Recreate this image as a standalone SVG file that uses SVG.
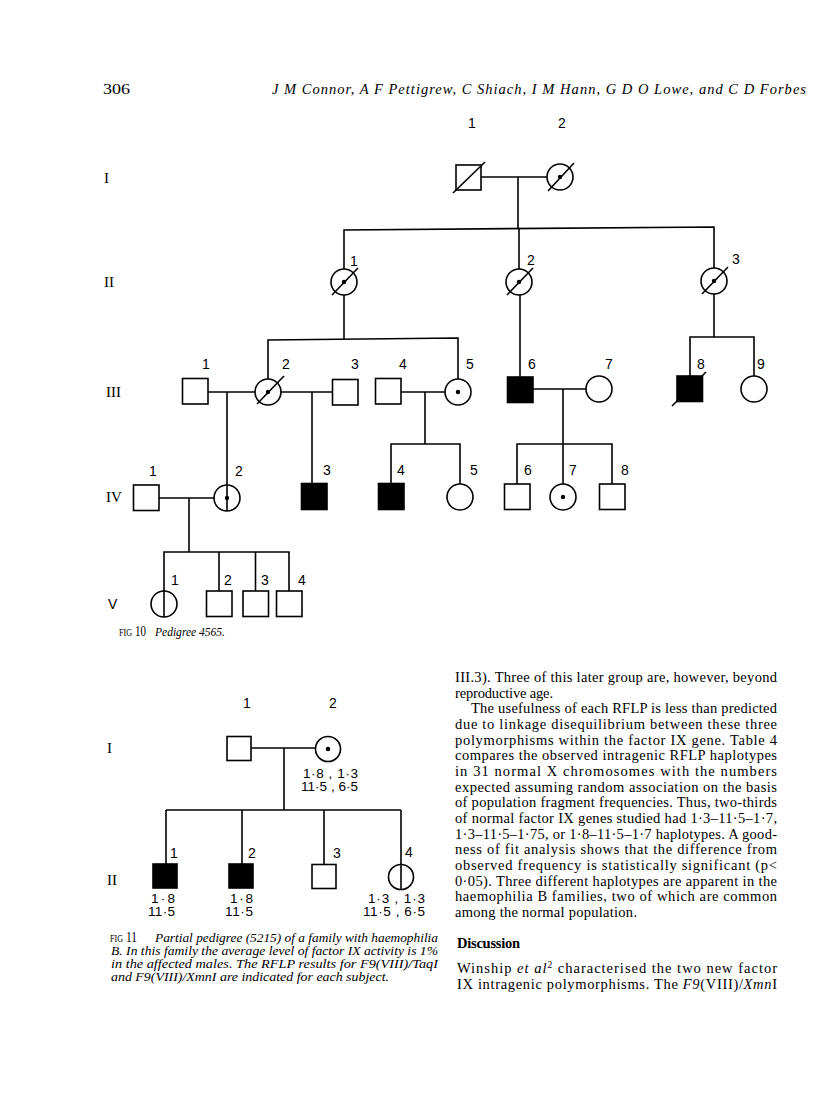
<svg xmlns="http://www.w3.org/2000/svg" width="816" height="1110" viewBox="0 0 816 1110">
<style>
.ln{stroke:#000;stroke-width:1.6;fill:none}
.nd{fill:#fff;stroke:#000;stroke-width:1.6}
.af{fill:#000;stroke:#000;stroke-width:1.6}
.dot{fill:#000}
.lb{font-family:"Liberation Sans",Arial,sans-serif;font-size:14px;fill:#000}
.dat{font-family:"Liberation Sans",Arial,sans-serif;font-size:13.5px;fill:#000}
.rom{font-family:"Liberation Serif","Times New Roman",serif;font-size:15px;fill:#000}
.bt{font-family:"Liberation Serif","Times New Roman",serif;font-size:14.5px;fill:#000}
.cap{font-family:"Liberation Serif","Times New Roman",serif;font-size:12.8px;font-style:italic;fill:#000}
.sc{font-family:"Liberation Serif","Times New Roman",serif;font-size:9.5px;fill:#000}
.it{font-style:italic}
</style>
<rect width="816" height="1110" fill="#fff"/>

<!-- header -->
<text class="bt" x="103" y="94" font-size="16" textLength="27" lengthAdjust="spacingAndGlyphs">306</text>
<text class="bt it" x="272" y="94" font-size="15.5" textLength="534">J M Connor, A F Pettigrew, C Shiach, I M Hann, G D O Lowe, and C D Forbes</text>

<!-- ================= FIG 10 ================= -->
<g id="f10-generations">
<text class="rom" x="104" y="183">I</text>
<text class="rom" x="104" y="287">II</text>
<text class="rom" x="106" y="397">III</text>
<text class="rom" x="106" y="502">IV</text>
<text class="lb" x="108" y="609">V</text>
</g>

<g id="f10-connectors">
<line class="ln" x1="481" y1="177" x2="547" y2="177"/>
<line class="ln" x1="518" y1="177" x2="518" y2="229"/>
<polyline class="ln" points="344,269 344,230 714,227 714,268"/>
<line class="ln" x1="519" y1="228.5" x2="519" y2="269"/>
<line class="ln" x1="344" y1="295" x2="344" y2="339"/>
<polyline class="ln" points="268,379 268,340 458,338 458,379"/>
<line class="ln" x1="520" y1="295" x2="520" y2="377"/>
<line class="ln" x1="714" y1="294" x2="714" y2="337"/>
<polyline class="ln" points="690,376 690,337 754,337 754,376"/>
<line class="ln" x1="208" y1="392" x2="255" y2="392"/>
<line class="ln" x1="227" y1="392" x2="227" y2="511"/>
<line class="ln" x1="281" y1="392" x2="332" y2="392"/>
<line class="ln" x1="312" y1="392" x2="312" y2="483"/>
<line class="ln" x1="401" y1="392" x2="445" y2="392"/>
<line class="ln" x1="425" y1="392" x2="425" y2="444"/>
<polyline class="ln" points="391,483 391,444 460,444 460,484"/>
<line class="ln" x1="533" y1="389" x2="586" y2="389"/>
<line class="ln" x1="563" y1="389" x2="563" y2="484"/>
<polyline class="ln" points="517,484 517,444 612,444 612,484"/>
<line class="ln" x1="159" y1="498" x2="214" y2="498"/>
<line class="ln" x1="189" y1="498" x2="189" y2="552"/>
<polyline class="ln" points="164,591 164,552 289,552 289,591"/>
<line class="ln" x1="219" y1="552" x2="219" y2="591"/>
<line class="ln" x1="255.5" y1="552" x2="255.5" y2="591"/>
</g>

<g id="f10-I-1">
<rect class="nd" x="456" y="165" width="25" height="25"/>
<line class="ln" x1="453" y1="193" x2="485" y2="162"/>
<text class="lb" x="472" y="128" text-anchor="middle">1</text>
</g>
<g id="f10-I-2">
<circle class="nd" cx="560" cy="177" r="13"/>
<circle class="dot" cx="560" cy="177" r="2.2"/>
<line class="ln" x1="548" y1="191" x2="574" y2="163"/>
<text class="lb" x="562" y="128" text-anchor="middle">2</text>
</g>

<g id="f10-II-1">
<circle class="nd" cx="344" cy="282" r="13"/>
<circle class="dot" cx="344" cy="282" r="2.2"/>
<line class="ln" x1="332" y1="295" x2="358" y2="268"/>
<text class="lb" x="350" y="266">1</text>
</g>
<g id="f10-II-2">
<circle class="nd" cx="519" cy="282" r="13"/>
<circle class="dot" cx="519" cy="282" r="2.2"/>
<line class="ln" x1="507" y1="295" x2="533" y2="268"/>
<text class="lb" x="527" y="265">2</text>
</g>
<g id="f10-II-3">
<circle class="nd" cx="714" cy="281" r="13"/>
<circle class="dot" cx="714" cy="281" r="2.2"/>
<line class="ln" x1="702" y1="294" x2="728" y2="267"/>
<text class="lb" x="732" y="264">3</text>
</g>

<g id="f10-III-1">
<rect class="nd" x="182.5" y="378.5" width="25.5" height="25.5"/>
<text class="lb" x="202" y="369">1</text>
</g>
<g id="f10-III-2">
<circle class="nd" cx="268" cy="392" r="13"/>
<circle class="dot" cx="268" cy="392" r="2.2"/>
<line class="ln" x1="257" y1="404" x2="284" y2="376"/>
<text class="lb" x="282" y="369">2</text>
</g>
<g id="f10-III-3">
<rect class="nd" x="332.5" y="379.5" width="25.5" height="25.5"/>
<text class="lb" x="351" y="369">3</text>
</g>
<g id="f10-III-4">
<rect class="nd" x="375.5" y="378.5" width="25.5" height="25.5"/>
<text class="lb" x="399" y="369">4</text>
</g>
<g id="f10-III-5">
<circle class="nd" cx="458" cy="392" r="13"/>
<circle class="dot" cx="458" cy="392" r="2.2"/>
<text class="lb" x="466" y="369">5</text>
</g>
<g id="f10-III-6">
<rect class="af" x="507.5" y="377" width="25.5" height="25.5"/>
<text class="lb" x="528" y="369">6</text>
</g>
<g id="f10-III-7">
<circle class="nd" cx="599" cy="389" r="13"/>
<text class="lb" x="605" y="369">7</text>
</g>
<g id="f10-III-8">
<rect class="af" x="677" y="376" width="25.5" height="25.5"/>
<line class="ln" x1="672" y1="406" x2="706" y2="372"/>
<text class="lb" x="697" y="369">8</text>
</g>
<g id="f10-III-9">
<circle class="nd" cx="754" cy="389" r="13"/>
<text class="lb" x="757" y="369">9</text>
</g>

<g id="f10-IV-1">
<rect class="nd" x="133.5" y="485" width="25.5" height="25.5"/>
<text class="lb" x="149" y="476">1</text>
</g>
<g id="f10-IV-2">
<circle class="nd" cx="227" cy="498" r="13"/>
<line class="ln" x1="227" y1="485" x2="227" y2="511"/>
<circle class="dot" cx="227" cy="498" r="2.2"/>
<text class="lb" x="235" y="476">2</text>
</g>
<g id="f10-IV-3">
<rect class="af" x="301.5" y="483.5" width="25.5" height="26"/>
<text class="lb" x="323" y="475">3</text>
</g>
<g id="f10-IV-4">
<rect class="af" x="378.5" y="483.5" width="25.5" height="26"/>
<text class="lb" x="397" y="475">4</text>
</g>
<g id="f10-IV-5">
<circle class="nd" cx="460" cy="497" r="13"/>
<text class="lb" x="470" y="475">5</text>
</g>
<g id="f10-IV-6">
<rect class="nd" x="504.5" y="484" width="25.5" height="25.5"/>
<text class="lb" x="524" y="475">6</text>
</g>
<g id="f10-IV-7">
<circle class="nd" cx="563" cy="497" r="13"/>
<circle class="dot" cx="563" cy="497" r="2.2"/>
<text class="lb" x="569" y="475">7</text>
</g>
<g id="f10-IV-8">
<rect class="nd" x="599.5" y="484" width="25.5" height="25.5"/>
<text class="lb" x="621" y="475">8</text>
</g>

<g id="f10-V-1">
<circle class="nd" cx="164" cy="604" r="13"/>
<line class="ln" x1="164" y1="591" x2="164" y2="617"/>
<text class="lb" x="171" y="585">1</text>
</g>
<g id="f10-V-2">
<rect class="nd" x="206.5" y="591" width="25.5" height="25.5"/>
<text class="lb" x="224" y="585">2</text>
</g>
<g id="f10-V-3">
<rect class="nd" x="243" y="591" width="25.5" height="25.5"/>
<text class="lb" x="261" y="585">3</text>
</g>
<g id="f10-V-4">
<rect class="nd" x="276.5" y="591" width="25.5" height="25.5"/>
<text class="lb" x="298" y="585">4</text>
</g>

<!-- Fig 10 caption -->
<text class="sc" x="119" y="636" textLength="13" lengthAdjust="spacingAndGlyphs">FIG</text>
<text class="bt" x="135" y="636" font-size="13.5" textLength="11" lengthAdjust="spacingAndGlyphs">10</text>
<text class="cap" x="155" y="636" textLength="70" lengthAdjust="spacingAndGlyphs">Pedigree 4565.</text>

<!-- ================= FIG 11 ================= -->
<g id="f11-generations">
<text class="rom" x="107" y="753">I</text>
<text class="rom" x="107" y="885">II</text>
</g>

<g id="f11-connectors">
<line class="ln" x1="251" y1="748" x2="316" y2="748"/>
<line class="ln" x1="284" y1="748" x2="284" y2="810"/>
<line class="ln" x1="166" y1="810" x2="401" y2="810"/>
<line class="ln" x1="166" y1="810" x2="166" y2="864"/>
<line class="ln" x1="242" y1="810" x2="242" y2="864"/>
<line class="ln" x1="324" y1="810" x2="324" y2="864"/>
<line class="ln" x1="401" y1="810" x2="401" y2="865"/>
</g>

<g id="f11-I-1">
<rect class="nd" x="227" y="736.5" width="24" height="24"/>
<text class="lb" x="247" y="708" text-anchor="middle">1</text>
</g>
<g id="f11-I-2">
<circle class="nd" cx="328" cy="749" r="12.5"/>
<circle class="dot" cx="328" cy="749" r="2.3"/>
<text class="lb" x="333" y="708" text-anchor="middle">2</text>
<text class="dat" x="303" y="778" textLength="55">1·8 , 1·3</text>
<text class="dat" x="301" y="791" textLength="57">11·5 , 6·5</text>
</g>
<g id="f11-II-1">
<rect class="af" x="153" y="864" width="24" height="24"/>
<text class="lb" x="170" y="858">1</text>
<text class="dat" x="151" y="903" textLength="24">1·8</text>
<text class="dat" x="148" y="916" textLength="27">11·5</text>
</g>
<g id="f11-II-2">
<rect class="af" x="229" y="864" width="24" height="24"/>
<text class="lb" x="248" y="858">2</text>
<text class="dat" x="230" y="903" textLength="23">1·8</text>
<text class="dat" x="225" y="916" textLength="28">11·5</text>
</g>
<g id="f11-II-3">
<rect class="nd" x="312" y="864.5" width="24" height="24"/>
<text class="lb" x="333" y="858">3</text>
</g>
<g id="f11-II-4">
<circle class="nd" cx="401" cy="877" r="12.5"/>
<line class="ln" x1="401" y1="864" x2="401" y2="890"/>
<text class="lb" x="405" y="857">4</text>
<text class="dat" x="368" y="903" textLength="57">1·3 , 1·3</text>
<text class="dat" x="363" y="916" textLength="62">11·5 , 6·5</text>
</g>

<!-- Fig 11 caption -->
<text class="sc" x="110" y="942" textLength="13" lengthAdjust="spacingAndGlyphs">FIG</text>
<text class="bt" x="126" y="942" font-size="13" textLength="11" lengthAdjust="spacingAndGlyphs">11</text>
<text class="cap" x="155" y="942" textLength="283" lengthAdjust="spacingAndGlyphs">Partial pedigree (5215) of a family with haemophilia</text>
<text class="cap" x="111" y="955" textLength="327" lengthAdjust="spacingAndGlyphs">B. In this family the average level of factor IX activity is 1%</text>
<text class="cap" x="111" y="968" textLength="327" lengthAdjust="spacingAndGlyphs">in the affected males. The RFLP results for F9(VIII)/TaqI</text>
<text class="cap" x="111" y="981" textLength="278" lengthAdjust="spacingAndGlyphs">and F9(VIII)/XmnI are indicated for each subject.</text>

<!-- ================= body text ================= -->
<g id="body">
<text class="bt" x="455" y="682" textLength="322">III.3). Three of this later group are, however, beyond</text>
<text class="bt" x="455" y="697.7" textLength="98">reproductive age.</text>
<text class="bt" x="471" y="713.3" textLength="306">The usefulness of each RFLP is less than predicted</text>
<text class="bt" x="455" y="729" textLength="322">due to linkage disequilibrium between these three</text>
<text class="bt" x="455" y="744.7" textLength="322">polymorphisms within the factor IX gene. Table 4</text>
<text class="bt" x="455" y="760.4" textLength="322">compares the observed intragenic RFLP haplotypes</text>
<text class="bt" x="455" y="776" textLength="322">in 31 normal X chromosomes with the numbers</text>
<text class="bt" x="455" y="791.7" textLength="322">expected assuming random association on the basis</text>
<text class="bt" x="455" y="807.4" textLength="322">of population fragment frequencies. Thus, two-thirds</text>
<text class="bt" x="455" y="823" textLength="322">of normal factor IX genes studied had 1·3–11·5–1·7,</text>
<text class="bt" x="455" y="838.7" textLength="322">1·3–11·5–1·75, or 1·8–11·5–1·7 haplotypes. A good-</text>
<text class="bt" x="455" y="854.4" textLength="322">ness of fit analysis shows that the difference from</text>
<text class="bt" x="455" y="870" textLength="322">observed frequency is statistically significant (p&lt;</text>
<text class="bt" x="455" y="885.7" textLength="322">0·05). Three different haplotypes are apparent in the</text>
<text class="bt" x="455" y="901.4" textLength="322">haemophilia B families, two of which are common</text>
<text class="bt" x="455" y="917" textLength="182">among the normal population.</text>
<text class="bt" x="457" y="948" font-weight="bold" textLength="63">Discussion</text>
<text class="bt" x="457" y="973" textLength="320">Winship <tspan class="it">et al</tspan><tspan font-size="9.5" dy="-5">2</tspan><tspan dy="5"> characterised the two new factor</tspan></text>
<text class="bt" x="457" y="989" textLength="320">IX intragenic polymorphisms. The <tspan class="it">F9</tspan>(VIII)/<tspan class="it">Xmn</tspan>I</text>
</g>
</svg>
